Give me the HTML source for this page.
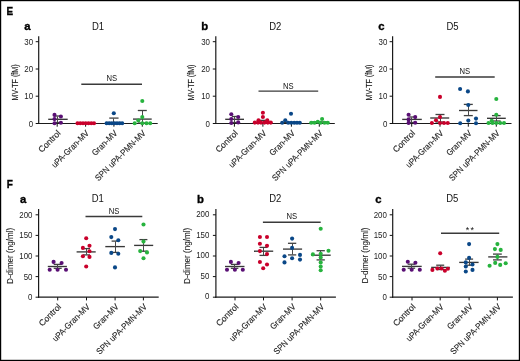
<!DOCTYPE html>
<html><head><meta charset="utf-8"><style>
html,body{margin:0;padding:0;background:#fff;}
body{width:520px;height:361px;overflow:hidden;}
svg{display:block;will-change:transform;font-family:"Liberation Sans",sans-serif;}
</style></head><body>
<svg width="520" height="361" viewBox="0 0 520 361">
<rect x="0.5" y="0.5" width="519" height="360" fill="#fff" stroke="#000" stroke-width="1.4"/>
<text x="6.4" y="14.5" font-size="10.9" font-weight="bold" fill="#000" stroke="#000" stroke-width="0.35" textLength="6.6" lengthAdjust="spacingAndGlyphs">E</text>
<text x="6.7" y="188.0" font-size="10.9" font-weight="bold" fill="#000" stroke="#000" stroke-width="0.35" textLength="6.1" lengthAdjust="spacingAndGlyphs">F</text>
<text x="24.3" y="29.8" font-size="11.3" text-anchor="start" font-weight="bold" fill="#000" stroke="#000" stroke-width="0.35">a</text>
<text x="98.1" y="29.8" font-size="10.0" text-anchor="middle" font-weight="normal" fill="#111" textLength="12.14" lengthAdjust="spacingAndGlyphs" >D1</text>
<line x1="38.7" y1="36.3" x2="38.7" y2="124.1" stroke="#1a1a1a" stroke-width="1.2"/>
<line x1="38.1" y1="123.5" x2="157.7" y2="123.5" stroke="#1a1a1a" stroke-width="1.2"/>
<line x1="35.7" y1="41.7" x2="38.7" y2="41.7" stroke="#111" stroke-width="1.0"/>
<text x="33.1" y="44.7" font-size="8.8" text-anchor="end" font-weight="normal" fill="#222" textLength="8.81" lengthAdjust="spacingAndGlyphs" >30</text>
<line x1="35.7" y1="69.0" x2="38.7" y2="69.0" stroke="#111" stroke-width="1.0"/>
<text x="33.1" y="72.0" font-size="8.8" text-anchor="end" font-weight="normal" fill="#222" textLength="8.81" lengthAdjust="spacingAndGlyphs" >20</text>
<line x1="35.7" y1="96.2" x2="38.7" y2="96.2" stroke="#111" stroke-width="1.0"/>
<text x="33.1" y="99.2" font-size="8.8" text-anchor="end" font-weight="normal" fill="#222" textLength="8.81" lengthAdjust="spacingAndGlyphs" >10</text>
<line x1="35.7" y1="123.5" x2="38.7" y2="123.5" stroke="#111" stroke-width="1.0"/>
<text x="33.1" y="126.5" font-size="8.8" text-anchor="end" font-weight="normal" fill="#222" textLength="4.40" lengthAdjust="spacingAndGlyphs" >0</text>
<text x="0" y="0" font-size="9.0" text-anchor="middle" fill="#222" stroke="#222" stroke-width="0.18" transform="translate(17.9,82.4) rotate(-90)" textLength="36" lengthAdjust="spacingAndGlyphs">MV-TF (fM)</text>
<line x1="57.2" y1="123.5" x2="57.2" y2="126.7" stroke="#111" stroke-width="1.0"/>
<text x="0" y="0" font-size="8.6" text-anchor="end" fill="#222" stroke="#222" stroke-width="0.12" textLength="27.47" lengthAdjust="spacingAndGlyphs" transform="translate(61.2,133.7) rotate(-45)">Control</text>
<line x1="85.6" y1="123.5" x2="85.6" y2="126.7" stroke="#111" stroke-width="1.0"/>
<text x="0" y="0" font-size="8.6" text-anchor="end" fill="#222" stroke="#222" stroke-width="0.12" textLength="49.02" lengthAdjust="spacingAndGlyphs" transform="translate(89.6,133.7) rotate(-45)">uPA-Gran-MV</text>
<line x1="113.9" y1="123.5" x2="113.9" y2="126.7" stroke="#111" stroke-width="1.0"/>
<text x="0" y="0" font-size="8.6" text-anchor="end" fill="#222" stroke="#222" stroke-width="0.12" textLength="32.04" lengthAdjust="spacingAndGlyphs" transform="translate(117.9,133.7) rotate(-45)">Gran-MV</text>
<line x1="142.3" y1="123.5" x2="142.3" y2="126.7" stroke="#111" stroke-width="1.0"/>
<text x="0" y="0" font-size="8.6" text-anchor="end" fill="#222" stroke="#222" stroke-width="0.12" textLength="67.45" lengthAdjust="spacingAndGlyphs" transform="translate(146.3,133.7) rotate(-45)">SPN uPA-PMN-MV</text>
<line x1="81.3" y1="84.2" x2="142" y2="84.2" stroke="#3a3a3a" stroke-width="1.4"/>
<text x="111.8" y="81.2" font-size="8.5" text-anchor="middle" font-weight="normal" fill="#111" textLength="10.63" lengthAdjust="spacingAndGlyphs" >NS</text>
<line x1="48.2" y1="119.3" x2="67.7" y2="119.3" stroke="#383838" stroke-width="1.35"/>
<line x1="57.5" y1="116.5" x2="57.5" y2="122.5" stroke="#4a4a4a" stroke-width="1.0"/>
<line x1="54.2" y1="116.0" x2="60.2" y2="116.0" stroke="#404040" stroke-width="1.3"/>
<line x1="54.2" y1="122.5" x2="60.2" y2="122.5" stroke="#404040" stroke-width="1.3"/>
<line x1="78" y1="123.2" x2="93" y2="123.2" stroke="#383838" stroke-width="1.35"/>
<line x1="106" y1="122.6" x2="121.5" y2="122.6" stroke="#383838" stroke-width="1.35"/>
<line x1="113.5" y1="118.5" x2="113.5" y2="123.5" stroke="#4a4a4a" stroke-width="1.0"/>
<line x1="109.25" y1="118.1" x2="118.55000000000001" y2="118.1" stroke="#404040" stroke-width="1.3"/>
<line x1="109.25" y1="123" x2="118.55000000000001" y2="123" stroke="#404040" stroke-width="1.3"/>
<line x1="133" y1="119.1" x2="151.7" y2="119.1" stroke="#383838" stroke-width="1.35"/>
<line x1="142.5" y1="110.5" x2="142.5" y2="123.5" stroke="#4a4a4a" stroke-width="1.0"/>
<line x1="137.8" y1="110.5" x2="146.8" y2="110.5" stroke="#404040" stroke-width="1.3"/>
<line x1="137.8" y1="123" x2="146.8" y2="123" stroke="#404040" stroke-width="1.3"/>
<circle cx="54.5" cy="114.9" r="2.05" fill="#590f74"/>
<circle cx="54.5" cy="119.1" r="2.05" fill="#590f74"/>
<circle cx="54.5" cy="123.2" r="2.05" fill="#590f74"/>
<circle cx="60.9" cy="116.5" r="2.05" fill="#590f74"/>
<circle cx="60.9" cy="122.8" r="2.05" fill="#590f74"/>
<circle cx="77.5" cy="123.2" r="2.05" fill="#c9002b"/>
<circle cx="80.25" cy="123.2" r="2.05" fill="#c9002b"/>
<circle cx="83.0" cy="123.2" r="2.05" fill="#c9002b"/>
<circle cx="85.75" cy="123.2" r="2.05" fill="#c9002b"/>
<circle cx="88.5" cy="123.2" r="2.05" fill="#c9002b"/>
<circle cx="91.25" cy="123.2" r="2.05" fill="#c9002b"/>
<circle cx="94.0" cy="123.2" r="2.05" fill="#c9002b"/>
<circle cx="113.8" cy="113.3" r="2.05" fill="#0a4787"/>
<circle cx="106.6" cy="123.2" r="2.05" fill="#0a4787"/>
<circle cx="109.19999999999999" cy="123.2" r="2.05" fill="#0a4787"/>
<circle cx="111.8" cy="123.2" r="2.05" fill="#0a4787"/>
<circle cx="114.39999999999999" cy="123.2" r="2.05" fill="#0a4787"/>
<circle cx="117.0" cy="123.2" r="2.05" fill="#0a4787"/>
<circle cx="119.6" cy="123.2" r="2.05" fill="#0a4787"/>
<circle cx="122.19999999999999" cy="123.2" r="2.05" fill="#0a4787"/>
<circle cx="142.3" cy="101.0" r="2.05" fill="#27b33e"/>
<circle cx="142.3" cy="117.1" r="2.05" fill="#27b33e"/>
<circle cx="138.3" cy="120.5" r="2.05" fill="#27b33e"/>
<circle cx="134.7" cy="123.2" r="2.05" fill="#27b33e"/>
<circle cx="142.3" cy="123.2" r="2.05" fill="#27b33e"/>
<circle cx="146.5" cy="123.2" r="2.05" fill="#27b33e"/>
<circle cx="150.2" cy="123.2" r="2.05" fill="#27b33e"/>
<text x="201.2" y="29.8" font-size="11.3" text-anchor="start" font-weight="bold" fill="#000" stroke="#000" stroke-width="0.35">b</text>
<text x="275.3" y="29.8" font-size="10.0" text-anchor="middle" font-weight="normal" fill="#111" textLength="12.14" lengthAdjust="spacingAndGlyphs" >D2</text>
<line x1="215.8" y1="36.3" x2="215.8" y2="124.1" stroke="#1a1a1a" stroke-width="1.2"/>
<line x1="215.20000000000002" y1="123.5" x2="334.8" y2="123.5" stroke="#1a1a1a" stroke-width="1.2"/>
<line x1="212.8" y1="41.7" x2="215.8" y2="41.7" stroke="#111" stroke-width="1.0"/>
<text x="210.0" y="44.7" font-size="8.8" text-anchor="end" font-weight="normal" fill="#222" textLength="8.81" lengthAdjust="spacingAndGlyphs" >30</text>
<line x1="212.8" y1="69.0" x2="215.8" y2="69.0" stroke="#111" stroke-width="1.0"/>
<text x="210.0" y="72.0" font-size="8.8" text-anchor="end" font-weight="normal" fill="#222" textLength="8.81" lengthAdjust="spacingAndGlyphs" >20</text>
<line x1="212.8" y1="96.2" x2="215.8" y2="96.2" stroke="#111" stroke-width="1.0"/>
<text x="210.0" y="99.2" font-size="8.8" text-anchor="end" font-weight="normal" fill="#222" textLength="8.81" lengthAdjust="spacingAndGlyphs" >10</text>
<line x1="212.8" y1="123.5" x2="215.8" y2="123.5" stroke="#111" stroke-width="1.0"/>
<text x="210.0" y="126.5" font-size="8.8" text-anchor="end" font-weight="normal" fill="#222" textLength="4.40" lengthAdjust="spacingAndGlyphs" >0</text>
<text x="0" y="0" font-size="9.0" text-anchor="middle" fill="#222" stroke="#222" stroke-width="0.18" transform="translate(193.7,82.5) rotate(-90)" textLength="36" lengthAdjust="spacingAndGlyphs">MV-TF (fM)</text>
<line x1="234.4" y1="123.5" x2="234.4" y2="126.7" stroke="#111" stroke-width="1.0"/>
<text x="0" y="0" font-size="8.6" text-anchor="end" fill="#222" stroke="#222" stroke-width="0.12" textLength="27.47" lengthAdjust="spacingAndGlyphs" transform="translate(238.4,133.7) rotate(-45)">Control</text>
<line x1="262.9" y1="123.5" x2="262.9" y2="126.7" stroke="#111" stroke-width="1.0"/>
<text x="0" y="0" font-size="8.6" text-anchor="end" fill="#222" stroke="#222" stroke-width="0.12" textLength="49.02" lengthAdjust="spacingAndGlyphs" transform="translate(266.9,133.7) rotate(-45)">uPA-Gran-MV</text>
<line x1="291.4" y1="123.5" x2="291.4" y2="126.7" stroke="#111" stroke-width="1.0"/>
<text x="0" y="0" font-size="8.6" text-anchor="end" fill="#222" stroke="#222" stroke-width="0.12" textLength="32.04" lengthAdjust="spacingAndGlyphs" transform="translate(295.4,133.7) rotate(-45)">Gran-MV</text>
<line x1="319.3" y1="123.5" x2="319.3" y2="126.7" stroke="#111" stroke-width="1.0"/>
<text x="0" y="0" font-size="8.6" text-anchor="end" fill="#222" stroke="#222" stroke-width="0.12" textLength="67.45" lengthAdjust="spacingAndGlyphs" transform="translate(323.3,133.7) rotate(-45)">SPN uPA-PMN-MV</text>
<line x1="258.5" y1="91.1" x2="318.2" y2="91.1" stroke="#3a3a3a" stroke-width="1.4"/>
<text x="288.3" y="88.5" font-size="8.5" text-anchor="middle" font-weight="normal" fill="#111" textLength="10.63" lengthAdjust="spacingAndGlyphs" >NS</text>
<line x1="225.2" y1="119.3" x2="244" y2="119.3" stroke="#383838" stroke-width="1.35"/>
<line x1="234.5" y1="116.5" x2="234.5" y2="122.5" stroke="#4a4a4a" stroke-width="1.0"/>
<line x1="231.9" y1="116.5" x2="236.9" y2="116.5" stroke="#404040" stroke-width="1.3"/>
<line x1="231.9" y1="122.5" x2="236.9" y2="122.5" stroke="#404040" stroke-width="1.3"/>
<line x1="258" y1="120.4" x2="268" y2="120.4" stroke="#383838" stroke-width="1.35"/>
<line x1="284" y1="122.3" x2="299" y2="122.3" stroke="#383838" stroke-width="1.35"/>
<line x1="312" y1="122.0" x2="328" y2="122.0" stroke="#383838" stroke-width="1.35"/>
<circle cx="231.3" cy="114.3" r="2.05" fill="#590f74"/>
<circle cx="231.3" cy="119.0" r="2.05" fill="#590f74"/>
<circle cx="231.3" cy="123.0" r="2.05" fill="#590f74"/>
<circle cx="238.2" cy="117.0" r="2.05" fill="#590f74"/>
<circle cx="238.2" cy="122.4" r="2.05" fill="#590f74"/>
<circle cx="262.9" cy="112.8" r="2.05" fill="#c9002b"/>
<circle cx="262.9" cy="117.0" r="2.05" fill="#c9002b"/>
<circle cx="258.5" cy="120.2" r="2.05" fill="#c9002b"/>
<circle cx="267.3" cy="120.2" r="2.05" fill="#c9002b"/>
<circle cx="254.8" cy="122.6" r="2.05" fill="#c9002b"/>
<circle cx="258.0" cy="122.6" r="2.05" fill="#c9002b"/>
<circle cx="261.0" cy="122.6" r="2.05" fill="#c9002b"/>
<circle cx="264.5" cy="122.6" r="2.05" fill="#c9002b"/>
<circle cx="267.8" cy="122.6" r="2.05" fill="#c9002b"/>
<circle cx="270.8" cy="122.6" r="2.05" fill="#c9002b"/>
<circle cx="291.0" cy="113.8" r="2.05" fill="#0a4787"/>
<circle cx="285.3" cy="120.3" r="2.05" fill="#0a4787"/>
<circle cx="282.2" cy="122.8" r="2.05" fill="#0a4787"/>
<circle cx="288.2" cy="122.8" r="2.05" fill="#0a4787"/>
<circle cx="291.2" cy="122.8" r="2.05" fill="#0a4787"/>
<circle cx="294.2" cy="122.8" r="2.05" fill="#0a4787"/>
<circle cx="297.0" cy="122.8" r="2.05" fill="#0a4787"/>
<circle cx="299.8" cy="122.8" r="2.05" fill="#0a4787"/>
<circle cx="322.1" cy="119.0" r="2.05" fill="#27b33e"/>
<circle cx="311.2" cy="122.8" r="2.05" fill="#27b33e"/>
<circle cx="314.5" cy="122.8" r="2.05" fill="#27b33e"/>
<circle cx="317.8" cy="121.8" r="2.05" fill="#27b33e"/>
<circle cx="320.5" cy="122.8" r="2.05" fill="#27b33e"/>
<circle cx="324.5" cy="122.8" r="2.05" fill="#27b33e"/>
<circle cx="327.8" cy="122.8" r="2.05" fill="#27b33e"/>
<text x="378.2" y="29.8" font-size="11.3" text-anchor="start" font-weight="bold" fill="#000" stroke="#000" stroke-width="0.35">c</text>
<text x="452.5" y="29.8" font-size="10.0" text-anchor="middle" font-weight="normal" fill="#111" textLength="12.14" lengthAdjust="spacingAndGlyphs" >D5</text>
<line x1="392.6" y1="36.3" x2="392.6" y2="124.1" stroke="#1a1a1a" stroke-width="1.2"/>
<line x1="392.0" y1="123.5" x2="511.5" y2="123.5" stroke="#1a1a1a" stroke-width="1.2"/>
<line x1="389.6" y1="41.7" x2="392.6" y2="41.7" stroke="#111" stroke-width="1.0"/>
<text x="387.3" y="44.7" font-size="8.8" text-anchor="end" font-weight="normal" fill="#222" textLength="8.81" lengthAdjust="spacingAndGlyphs" >30</text>
<line x1="389.6" y1="69.0" x2="392.6" y2="69.0" stroke="#111" stroke-width="1.0"/>
<text x="387.3" y="72.0" font-size="8.8" text-anchor="end" font-weight="normal" fill="#222" textLength="8.81" lengthAdjust="spacingAndGlyphs" >20</text>
<line x1="389.6" y1="96.2" x2="392.6" y2="96.2" stroke="#111" stroke-width="1.0"/>
<text x="387.3" y="99.2" font-size="8.8" text-anchor="end" font-weight="normal" fill="#222" textLength="8.81" lengthAdjust="spacingAndGlyphs" >10</text>
<line x1="389.6" y1="123.5" x2="392.6" y2="123.5" stroke="#111" stroke-width="1.0"/>
<text x="387.3" y="126.5" font-size="8.8" text-anchor="end" font-weight="normal" fill="#222" textLength="4.40" lengthAdjust="spacingAndGlyphs" >0</text>
<text x="0" y="0" font-size="9.0" text-anchor="middle" fill="#222" stroke="#222" stroke-width="0.18" transform="translate(371.5,82.5) rotate(-90)" textLength="36" lengthAdjust="spacingAndGlyphs">MV-TF (fM)</text>
<line x1="411.7" y1="123.5" x2="411.7" y2="126.7" stroke="#111" stroke-width="1.0"/>
<text x="0" y="0" font-size="8.6" text-anchor="end" fill="#222" stroke="#222" stroke-width="0.12" textLength="27.47" lengthAdjust="spacingAndGlyphs" transform="translate(415.7,133.7) rotate(-45)">Control</text>
<line x1="440.0" y1="123.5" x2="440.0" y2="126.7" stroke="#111" stroke-width="1.0"/>
<text x="0" y="0" font-size="8.6" text-anchor="end" fill="#222" stroke="#222" stroke-width="0.12" textLength="49.02" lengthAdjust="spacingAndGlyphs" transform="translate(444.0,133.7) rotate(-45)">uPA-Gran-MV</text>
<line x1="468.3" y1="123.5" x2="468.3" y2="126.7" stroke="#111" stroke-width="1.0"/>
<text x="0" y="0" font-size="8.6" text-anchor="end" fill="#222" stroke="#222" stroke-width="0.12" textLength="32.04" lengthAdjust="spacingAndGlyphs" transform="translate(472.3,133.7) rotate(-45)">Gran-MV</text>
<line x1="496.3" y1="123.5" x2="496.3" y2="126.7" stroke="#111" stroke-width="1.0"/>
<text x="0" y="0" font-size="8.6" text-anchor="end" fill="#222" stroke="#222" stroke-width="0.12" textLength="67.45" lengthAdjust="spacingAndGlyphs" transform="translate(500.3,133.7) rotate(-45)">SPN uPA-PMN-MV</text>
<line x1="435.2" y1="77.0" x2="494.7" y2="77.0" stroke="#3a3a3a" stroke-width="1.4"/>
<text x="464.9" y="74.2" font-size="8.5" text-anchor="middle" font-weight="normal" fill="#111" textLength="10.63" lengthAdjust="spacingAndGlyphs" >NS</text>
<line x1="402.2" y1="119.4" x2="421.8" y2="119.4" stroke="#383838" stroke-width="1.35"/>
<line x1="411.5" y1="117.5" x2="411.5" y2="122.5" stroke="#4a4a4a" stroke-width="1.0"/>
<line x1="409.2" y1="117.0" x2="414.2" y2="117.0" stroke="#404040" stroke-width="1.3"/>
<line x1="409.2" y1="122.5" x2="414.2" y2="122.5" stroke="#404040" stroke-width="1.3"/>
<line x1="430.2" y1="118.0" x2="449.2" y2="118.0" stroke="#383838" stroke-width="1.35"/>
<line x1="440.5" y1="114.5" x2="440.5" y2="122.5" stroke="#4a4a4a" stroke-width="1.0"/>
<line x1="435.5" y1="114.5" x2="444.5" y2="114.5" stroke="#404040" stroke-width="1.3"/>
<line x1="435.5" y1="122" x2="444.5" y2="122" stroke="#404040" stroke-width="1.3"/>
<line x1="459" y1="110.5" x2="477.5" y2="110.5" stroke="#383838" stroke-width="1.35"/>
<line x1="468.5" y1="104.5" x2="468.5" y2="115.5" stroke="#4a4a4a" stroke-width="1.0"/>
<line x1="463.8" y1="104.4" x2="472.8" y2="104.4" stroke="#404040" stroke-width="1.3"/>
<line x1="463.8" y1="115.6" x2="472.8" y2="115.6" stroke="#404040" stroke-width="1.3"/>
<line x1="487" y1="118.3" x2="505.8" y2="118.3" stroke="#383838" stroke-width="1.35"/>
<line x1="496.5" y1="115.5" x2="496.5" y2="121.5" stroke="#4a4a4a" stroke-width="1.0"/>
<line x1="491.95" y1="115.6" x2="500.65000000000003" y2="115.6" stroke="#404040" stroke-width="1.3"/>
<line x1="491.95" y1="121" x2="500.65000000000003" y2="121" stroke="#404040" stroke-width="1.3"/>
<circle cx="408.6" cy="114.8" r="2.05" fill="#590f74"/>
<circle cx="408.6" cy="119.4" r="2.05" fill="#590f74"/>
<circle cx="408.6" cy="122.9" r="2.05" fill="#590f74"/>
<circle cx="415.2" cy="117.1" r="2.05" fill="#590f74"/>
<circle cx="415.2" cy="122.7" r="2.05" fill="#590f74"/>
<circle cx="440.0" cy="96.9" r="2.05" fill="#c9002b"/>
<circle cx="440.0" cy="117.1" r="2.05" fill="#c9002b"/>
<circle cx="436.0" cy="120.2" r="2.05" fill="#c9002b"/>
<circle cx="431.9" cy="123.0" r="2.05" fill="#c9002b"/>
<circle cx="440.0" cy="123.0" r="2.05" fill="#c9002b"/>
<circle cx="444.0" cy="123.0" r="2.05" fill="#c9002b"/>
<circle cx="447.8" cy="123.0" r="2.05" fill="#c9002b"/>
<circle cx="460.1" cy="89.0" r="2.05" fill="#0a4787"/>
<circle cx="467.9" cy="91.4" r="2.05" fill="#0a4787"/>
<circle cx="468.3" cy="105.0" r="2.05" fill="#0a4787"/>
<circle cx="476.0" cy="118.6" r="2.05" fill="#0a4787"/>
<circle cx="468.3" cy="120.6" r="2.05" fill="#0a4787"/>
<circle cx="460.2" cy="123.2" r="2.05" fill="#0a4787"/>
<circle cx="476.0" cy="123.2" r="2.05" fill="#0a4787"/>
<circle cx="496.3" cy="99.0" r="2.05" fill="#27b33e"/>
<circle cx="496.3" cy="114.8" r="2.05" fill="#27b33e"/>
<circle cx="491.7" cy="120.8" r="2.05" fill="#27b33e"/>
<circle cx="488.5" cy="123.0" r="2.05" fill="#27b33e"/>
<circle cx="492.5" cy="123.0" r="2.05" fill="#27b33e"/>
<circle cx="496.3" cy="123.0" r="2.05" fill="#27b33e"/>
<circle cx="500.2" cy="123.0" r="2.05" fill="#27b33e"/>
<circle cx="504.0" cy="123.0" r="2.05" fill="#27b33e"/>
<text x="20.0" y="202.8" font-size="11.3" text-anchor="start" font-weight="bold" fill="#000" stroke="#000" stroke-width="0.35">a</text>
<text x="97.8" y="202.3" font-size="10.0" text-anchor="middle" font-weight="normal" fill="#111" textLength="12.14" lengthAdjust="spacingAndGlyphs" >D1</text>
<line x1="38.6" y1="209.1" x2="38.6" y2="297.8" stroke="#1a1a1a" stroke-width="1.2"/>
<line x1="38.0" y1="297.2" x2="158.7" y2="297.2" stroke="#1a1a1a" stroke-width="1.2"/>
<line x1="35.6" y1="214.8" x2="38.6" y2="214.8" stroke="#111" stroke-width="1.0"/>
<text x="32.5" y="217.8" font-size="8.8" text-anchor="end" font-weight="normal" fill="#222" textLength="13.21" lengthAdjust="spacingAndGlyphs" >200</text>
<line x1="35.6" y1="235.4" x2="38.6" y2="235.4" stroke="#111" stroke-width="1.0"/>
<text x="32.5" y="238.4" font-size="8.8" text-anchor="end" font-weight="normal" fill="#222" textLength="13.21" lengthAdjust="spacingAndGlyphs" >150</text>
<line x1="35.6" y1="256.0" x2="38.6" y2="256.0" stroke="#111" stroke-width="1.0"/>
<text x="32.5" y="259.0" font-size="8.8" text-anchor="end" font-weight="normal" fill="#222" textLength="13.21" lengthAdjust="spacingAndGlyphs" >100</text>
<line x1="35.6" y1="276.6" x2="38.6" y2="276.6" stroke="#111" stroke-width="1.0"/>
<text x="32.5" y="279.6" font-size="8.8" text-anchor="end" font-weight="normal" fill="#222" textLength="8.81" lengthAdjust="spacingAndGlyphs" >50</text>
<line x1="35.6" y1="297.2" x2="38.6" y2="297.2" stroke="#111" stroke-width="1.0"/>
<text x="32.5" y="300.2" font-size="8.8" text-anchor="end" font-weight="normal" fill="#222" textLength="4.40" lengthAdjust="spacingAndGlyphs" >0</text>
<text x="0" y="0" font-size="8.6" text-anchor="middle" fill="#222" stroke="#222" stroke-width="0.1" transform="translate(13.0,255.9) rotate(-90)" textLength="56" lengthAdjust="spacingAndGlyphs">D-dimer (ng/ml)</text>
<line x1="57.7" y1="297.2" x2="57.7" y2="300.4" stroke="#111" stroke-width="1.0"/>
<text x="0" y="0" font-size="8.6" text-anchor="end" fill="#222" stroke="#222" stroke-width="0.12" textLength="27.47" lengthAdjust="spacingAndGlyphs" transform="translate(61.7,307.4) rotate(-45)">Control</text>
<line x1="86.5" y1="297.2" x2="86.5" y2="300.4" stroke="#111" stroke-width="1.0"/>
<text x="0" y="0" font-size="8.6" text-anchor="end" fill="#222" stroke="#222" stroke-width="0.12" textLength="49.02" lengthAdjust="spacingAndGlyphs" transform="translate(90.5,307.4) rotate(-45)">uPA-Gran-MV</text>
<line x1="115.1" y1="297.2" x2="115.1" y2="300.4" stroke="#111" stroke-width="1.0"/>
<text x="0" y="0" font-size="8.6" text-anchor="end" fill="#222" stroke="#222" stroke-width="0.12" textLength="32.04" lengthAdjust="spacingAndGlyphs" transform="translate(119.1,307.4) rotate(-45)">Gran-MV</text>
<line x1="143.4" y1="297.2" x2="143.4" y2="300.4" stroke="#111" stroke-width="1.0"/>
<text x="0" y="0" font-size="8.6" text-anchor="end" fill="#222" stroke="#222" stroke-width="0.12" textLength="67.45" lengthAdjust="spacingAndGlyphs" transform="translate(147.4,307.4) rotate(-45)">SPN uPA-PMN-MV</text>
<line x1="85.5" y1="216.5" x2="142.3" y2="216.5" stroke="#3a3a3a" stroke-width="1.4"/>
<text x="114.0" y="213.8" font-size="8.5" text-anchor="middle" font-weight="normal" fill="#111" textLength="10.63" lengthAdjust="spacingAndGlyphs" >NS</text>
<line x1="47.8" y1="266.5" x2="66.9" y2="266.5" stroke="#383838" stroke-width="1.35"/>
<line x1="57.5" y1="264.5" x2="57.5" y2="268.5" stroke="#4a4a4a" stroke-width="1.0"/>
<line x1="53.7" y1="264.4" x2="61.7" y2="264.4" stroke="#404040" stroke-width="1.3"/>
<line x1="53.7" y1="268.3" x2="61.7" y2="268.3" stroke="#404040" stroke-width="1.3"/>
<line x1="76.6" y1="251.9" x2="95.7" y2="251.9" stroke="#383838" stroke-width="1.35"/>
<line x1="86.5" y1="248.5" x2="86.5" y2="254.5" stroke="#4a4a4a" stroke-width="1.0"/>
<line x1="83.0" y1="248.6" x2="90.0" y2="248.6" stroke="#404040" stroke-width="1.3"/>
<line x1="83.0" y1="254.9" x2="90.0" y2="254.9" stroke="#404040" stroke-width="1.3"/>
<line x1="105.3" y1="246.6" x2="124.9" y2="246.6" stroke="#383838" stroke-width="1.35"/>
<line x1="115.5" y1="241.5" x2="115.5" y2="252.5" stroke="#4a4a4a" stroke-width="1.0"/>
<line x1="111.6" y1="241.1" x2="118.6" y2="241.1" stroke="#404040" stroke-width="1.3"/>
<line x1="111.6" y1="252.4" x2="118.6" y2="252.4" stroke="#404040" stroke-width="1.3"/>
<line x1="134.1" y1="245.4" x2="153.2" y2="245.4" stroke="#383838" stroke-width="1.35"/>
<line x1="143.5" y1="239.5" x2="143.5" y2="251.5" stroke="#4a4a4a" stroke-width="1.0"/>
<line x1="139.4" y1="239.6" x2="147.4" y2="239.6" stroke="#404040" stroke-width="1.3"/>
<line x1="139.4" y1="251.2" x2="147.4" y2="251.2" stroke="#404040" stroke-width="1.3"/>
<circle cx="53.6" cy="261.9" r="2.05" fill="#590f74"/>
<circle cx="61.6" cy="263.0" r="2.05" fill="#590f74"/>
<circle cx="49.7" cy="269.7" r="2.05" fill="#590f74"/>
<circle cx="57.6" cy="269.7" r="2.05" fill="#590f74"/>
<circle cx="66.0" cy="269.7" r="2.05" fill="#590f74"/>
<circle cx="86.2" cy="238.3" r="2.05" fill="#c9002b"/>
<circle cx="82.9" cy="247.9" r="2.05" fill="#c9002b"/>
<circle cx="89.5" cy="245.8" r="2.05" fill="#c9002b"/>
<circle cx="89.5" cy="251.2" r="2.05" fill="#c9002b"/>
<circle cx="82.9" cy="256.2" r="2.05" fill="#c9002b"/>
<circle cx="89.5" cy="256.9" r="2.05" fill="#c9002b"/>
<circle cx="86.2" cy="266.5" r="2.05" fill="#c9002b"/>
<circle cx="115.0" cy="229.1" r="2.05" fill="#0a4787"/>
<circle cx="111.3" cy="237.1" r="2.05" fill="#0a4787"/>
<circle cx="118.3" cy="240.3" r="2.05" fill="#0a4787"/>
<circle cx="111.3" cy="252.9" r="2.05" fill="#0a4787"/>
<circle cx="118.3" cy="253.7" r="2.05" fill="#0a4787"/>
<circle cx="115.0" cy="267.4" r="2.05" fill="#0a4787"/>
<circle cx="143.5" cy="224.5" r="2.05" fill="#27b33e"/>
<circle cx="143.5" cy="241.6" r="2.05" fill="#27b33e"/>
<circle cx="140.2" cy="251.1" r="2.05" fill="#27b33e"/>
<circle cx="147.0" cy="252.4" r="2.05" fill="#27b33e"/>
<circle cx="143.5" cy="258.2" r="2.05" fill="#27b33e"/>
<text x="196.9" y="202.8" font-size="11.3" text-anchor="start" font-weight="bold" fill="#000" stroke="#000" stroke-width="0.35">b</text>
<text x="275.3" y="202.3" font-size="10.0" text-anchor="middle" font-weight="normal" fill="#111" textLength="12.14" lengthAdjust="spacingAndGlyphs" >D2</text>
<line x1="215.9" y1="209.1" x2="215.9" y2="297.8" stroke="#1a1a1a" stroke-width="1.2"/>
<line x1="215.3" y1="297.2" x2="335.9" y2="297.2" stroke="#1a1a1a" stroke-width="1.2"/>
<line x1="212.9" y1="214.8" x2="215.9" y2="214.8" stroke="#111" stroke-width="1.0"/>
<text x="209.4" y="217.0" font-size="8.8" text-anchor="end" font-weight="normal" fill="#222" textLength="13.21" lengthAdjust="spacingAndGlyphs" >200</text>
<line x1="212.9" y1="235.4" x2="215.9" y2="235.4" stroke="#111" stroke-width="1.0"/>
<text x="209.4" y="237.6" font-size="8.8" text-anchor="end" font-weight="normal" fill="#222" textLength="13.21" lengthAdjust="spacingAndGlyphs" >150</text>
<line x1="212.9" y1="256.0" x2="215.9" y2="256.0" stroke="#111" stroke-width="1.0"/>
<text x="209.4" y="258.2" font-size="8.8" text-anchor="end" font-weight="normal" fill="#222" textLength="13.21" lengthAdjust="spacingAndGlyphs" >100</text>
<line x1="212.9" y1="276.6" x2="215.9" y2="276.6" stroke="#111" stroke-width="1.0"/>
<text x="209.4" y="278.8" font-size="8.8" text-anchor="end" font-weight="normal" fill="#222" textLength="8.81" lengthAdjust="spacingAndGlyphs" >50</text>
<line x1="212.9" y1="297.2" x2="215.9" y2="297.2" stroke="#111" stroke-width="1.0"/>
<text x="209.4" y="299.4" font-size="8.8" text-anchor="end" font-weight="normal" fill="#222" textLength="4.40" lengthAdjust="spacingAndGlyphs" >0</text>
<text x="0" y="0" font-size="8.6" text-anchor="middle" fill="#222" stroke="#222" stroke-width="0.1" transform="translate(190.0,255.9) rotate(-90)" textLength="56" lengthAdjust="spacingAndGlyphs">D-dimer (ng/ml)</text>
<line x1="235.0" y1="297.2" x2="235.0" y2="300.4" stroke="#111" stroke-width="1.0"/>
<text x="0" y="0" font-size="8.6" text-anchor="end" fill="#222" stroke="#222" stroke-width="0.12" textLength="27.47" lengthAdjust="spacingAndGlyphs" transform="translate(239.0,307.4) rotate(-45)">Control</text>
<line x1="263.5" y1="297.2" x2="263.5" y2="300.4" stroke="#111" stroke-width="1.0"/>
<text x="0" y="0" font-size="8.6" text-anchor="end" fill="#222" stroke="#222" stroke-width="0.12" textLength="49.02" lengthAdjust="spacingAndGlyphs" transform="translate(267.5,307.4) rotate(-45)">uPA-Gran-MV</text>
<line x1="292.1" y1="297.2" x2="292.1" y2="300.4" stroke="#111" stroke-width="1.0"/>
<text x="0" y="0" font-size="8.6" text-anchor="end" fill="#222" stroke="#222" stroke-width="0.12" textLength="32.04" lengthAdjust="spacingAndGlyphs" transform="translate(296.1,307.4) rotate(-45)">Gran-MV</text>
<line x1="320.7" y1="297.2" x2="320.7" y2="300.4" stroke="#111" stroke-width="1.0"/>
<text x="0" y="0" font-size="8.6" text-anchor="end" fill="#222" stroke="#222" stroke-width="0.12" textLength="67.45" lengthAdjust="spacingAndGlyphs" transform="translate(324.7,307.4) rotate(-45)">SPN uPA-PMN-MV</text>
<line x1="262.9" y1="222.2" x2="320.7" y2="222.2" stroke="#3a3a3a" stroke-width="1.4"/>
<text x="291.9" y="218.8" font-size="8.5" text-anchor="middle" font-weight="normal" fill="#111" textLength="10.63" lengthAdjust="spacingAndGlyphs" >NS</text>
<line x1="225" y1="266.5" x2="244.5" y2="266.5" stroke="#383838" stroke-width="1.35"/>
<line x1="234.5" y1="264.5" x2="234.5" y2="268.5" stroke="#4a4a4a" stroke-width="1.0"/>
<line x1="230.85" y1="264.4" x2="238.35" y2="264.4" stroke="#404040" stroke-width="1.3"/>
<line x1="230.85" y1="268.3" x2="238.35" y2="268.3" stroke="#404040" stroke-width="1.3"/>
<line x1="254" y1="251.2" x2="273.2" y2="251.2" stroke="#383838" stroke-width="1.35"/>
<line x1="263.5" y1="247.5" x2="263.5" y2="255.5" stroke="#4a4a4a" stroke-width="1.0"/>
<line x1="259.5" y1="247.4" x2="267.5" y2="247.4" stroke="#404040" stroke-width="1.3"/>
<line x1="259.5" y1="255.4" x2="267.5" y2="255.4" stroke="#404040" stroke-width="1.3"/>
<line x1="283" y1="249.1" x2="302.1" y2="249.1" stroke="#383838" stroke-width="1.35"/>
<line x1="292.5" y1="243.5" x2="292.5" y2="254.5" stroke="#4a4a4a" stroke-width="1.0"/>
<line x1="287.95000000000005" y1="243.3" x2="296.25" y2="243.3" stroke="#404040" stroke-width="1.3"/>
<line x1="287.95000000000005" y1="254.9" x2="296.25" y2="254.9" stroke="#404040" stroke-width="1.3"/>
<line x1="311.2" y1="255.2" x2="330.7" y2="255.2" stroke="#383838" stroke-width="1.35"/>
<line x1="320.5" y1="250.5" x2="320.5" y2="259.5" stroke="#4a4a4a" stroke-width="1.0"/>
<line x1="316.55" y1="250.7" x2="324.84999999999997" y2="250.7" stroke="#404040" stroke-width="1.3"/>
<line x1="316.55" y1="259.9" x2="324.84999999999997" y2="259.9" stroke="#404040" stroke-width="1.3"/>
<circle cx="230.9" cy="261.9" r="2.05" fill="#590f74"/>
<circle cx="238.6" cy="263.0" r="2.05" fill="#590f74"/>
<circle cx="227.0" cy="269.7" r="2.05" fill="#590f74"/>
<circle cx="234.9" cy="269.7" r="2.05" fill="#590f74"/>
<circle cx="242.8" cy="269.7" r="2.05" fill="#590f74"/>
<circle cx="259.9" cy="237" r="2.05" fill="#c9002b"/>
<circle cx="267" cy="237" r="2.05" fill="#c9002b"/>
<circle cx="259.9" cy="243.8" r="2.05" fill="#c9002b"/>
<circle cx="267" cy="245.8" r="2.05" fill="#c9002b"/>
<circle cx="259.9" cy="251.1" r="2.05" fill="#c9002b"/>
<circle cx="267" cy="254.1" r="2.05" fill="#c9002b"/>
<circle cx="259.9" cy="262" r="2.05" fill="#c9002b"/>
<circle cx="267" cy="264.5" r="2.05" fill="#c9002b"/>
<circle cx="263.2" cy="268.2" r="2.05" fill="#c9002b"/>
<circle cx="292.1" cy="238.6" r="2.05" fill="#0a4787"/>
<circle cx="292.1" cy="247.9" r="2.05" fill="#0a4787"/>
<circle cx="284.5" cy="256.2" r="2.05" fill="#0a4787"/>
<circle cx="300" cy="254.9" r="2.05" fill="#0a4787"/>
<circle cx="292.1" cy="258.2" r="2.05" fill="#0a4787"/>
<circle cx="300" cy="259.6" r="2.05" fill="#0a4787"/>
<circle cx="284.5" cy="262.4" r="2.05" fill="#0a4787"/>
<circle cx="320.7" cy="228.8" r="2.05" fill="#27b33e"/>
<circle cx="328.5" cy="250.7" r="2.05" fill="#27b33e"/>
<circle cx="312.9" cy="254.4" r="2.05" fill="#27b33e"/>
<circle cx="320.7" cy="253.7" r="2.05" fill="#27b33e"/>
<circle cx="320.7" cy="257.4" r="2.05" fill="#27b33e"/>
<circle cx="320.7" cy="262.4" r="2.05" fill="#27b33e"/>
<circle cx="320.7" cy="266.5" r="2.05" fill="#27b33e"/>
<circle cx="320.7" cy="270.2" r="2.05" fill="#27b33e"/>
<text x="375.2" y="202.8" font-size="11.3" text-anchor="start" font-weight="bold" fill="#000" stroke="#000" stroke-width="0.35">c</text>
<text x="452.3" y="202.3" font-size="10.0" text-anchor="middle" font-weight="normal" fill="#111" textLength="12.14" lengthAdjust="spacingAndGlyphs" >D5</text>
<line x1="392.7" y1="209.1" x2="392.7" y2="297.8" stroke="#1a1a1a" stroke-width="1.2"/>
<line x1="392.09999999999997" y1="297.2" x2="512.9" y2="297.2" stroke="#1a1a1a" stroke-width="1.2"/>
<line x1="389.7" y1="214.8" x2="392.7" y2="214.8" stroke="#111" stroke-width="1.0"/>
<text x="386.9" y="217.8" font-size="8.8" text-anchor="end" font-weight="normal" fill="#222" textLength="13.21" lengthAdjust="spacingAndGlyphs" >200</text>
<line x1="389.7" y1="235.4" x2="392.7" y2="235.4" stroke="#111" stroke-width="1.0"/>
<text x="386.9" y="238.4" font-size="8.8" text-anchor="end" font-weight="normal" fill="#222" textLength="13.21" lengthAdjust="spacingAndGlyphs" >150</text>
<line x1="389.7" y1="256.0" x2="392.7" y2="256.0" stroke="#111" stroke-width="1.0"/>
<text x="386.9" y="259.0" font-size="8.8" text-anchor="end" font-weight="normal" fill="#222" textLength="13.21" lengthAdjust="spacingAndGlyphs" >100</text>
<line x1="389.7" y1="276.6" x2="392.7" y2="276.6" stroke="#111" stroke-width="1.0"/>
<text x="386.9" y="279.6" font-size="8.8" text-anchor="end" font-weight="normal" fill="#222" textLength="8.81" lengthAdjust="spacingAndGlyphs" >50</text>
<line x1="389.7" y1="297.2" x2="392.7" y2="297.2" stroke="#111" stroke-width="1.0"/>
<text x="386.9" y="300.2" font-size="8.8" text-anchor="end" font-weight="normal" fill="#222" textLength="4.40" lengthAdjust="spacingAndGlyphs" >0</text>
<text x="0" y="0" font-size="8.6" text-anchor="middle" fill="#222" stroke="#222" stroke-width="0.1" transform="translate(368.2,255.6) rotate(-90)" textLength="56" lengthAdjust="spacingAndGlyphs">D-dimer (ng/ml)</text>
<line x1="412.0" y1="297.2" x2="412.0" y2="300.4" stroke="#111" stroke-width="1.0"/>
<text x="0" y="0" font-size="8.6" text-anchor="end" fill="#222" stroke="#222" stroke-width="0.12" textLength="27.47" lengthAdjust="spacingAndGlyphs" transform="translate(416.0,307.4) rotate(-45)">Control</text>
<line x1="440.2" y1="297.2" x2="440.2" y2="300.4" stroke="#111" stroke-width="1.0"/>
<text x="0" y="0" font-size="8.6" text-anchor="end" fill="#222" stroke="#222" stroke-width="0.12" textLength="49.02" lengthAdjust="spacingAndGlyphs" transform="translate(444.2,307.4) rotate(-45)">uPA-Gran-MV</text>
<line x1="469.1" y1="297.2" x2="469.1" y2="300.4" stroke="#111" stroke-width="1.0"/>
<text x="0" y="0" font-size="8.6" text-anchor="end" fill="#222" stroke="#222" stroke-width="0.12" textLength="32.04" lengthAdjust="spacingAndGlyphs" transform="translate(473.1,307.4) rotate(-45)">Gran-MV</text>
<line x1="497.4" y1="297.2" x2="497.4" y2="300.4" stroke="#111" stroke-width="1.0"/>
<text x="0" y="0" font-size="8.6" text-anchor="end" fill="#222" stroke="#222" stroke-width="0.12" textLength="67.45" lengthAdjust="spacingAndGlyphs" transform="translate(501.4,307.4) rotate(-45)">SPN uPA-PMN-MV</text>
<line x1="441.0" y1="233.3" x2="499.2" y2="233.3" stroke="#3a3a3a" stroke-width="1.4"/>
<text x="467.5" y="232.6" font-size="9.0" text-anchor="middle" font-weight="normal" fill="#111" >*</text>
<text x="472.20000000000005" y="232.6" font-size="9.0" text-anchor="middle" font-weight="normal" fill="#111" >*</text>
<line x1="402" y1="266.4" x2="421.7" y2="266.4" stroke="#383838" stroke-width="1.35"/>
<line x1="411.5" y1="264.5" x2="411.5" y2="268.5" stroke="#4a4a4a" stroke-width="1.0"/>
<line x1="407.65" y1="264.2" x2="415.15" y2="264.2" stroke="#404040" stroke-width="1.3"/>
<line x1="407.65" y1="268.2" x2="415.15" y2="268.2" stroke="#404040" stroke-width="1.3"/>
<line x1="431.2" y1="267.4" x2="449.8" y2="267.4" stroke="#383838" stroke-width="1.35"/>
<line x1="440.5" y1="265.5" x2="440.5" y2="269.5" stroke="#4a4a4a" stroke-width="1.0"/>
<line x1="436.2" y1="265.2" x2="444.2" y2="265.2" stroke="#404040" stroke-width="1.3"/>
<line x1="436.2" y1="269.5" x2="444.2" y2="269.5" stroke="#404040" stroke-width="1.3"/>
<line x1="459.2" y1="262.4" x2="478.6" y2="262.4" stroke="#383838" stroke-width="1.35"/>
<line x1="469.5" y1="259.5" x2="469.5" y2="265.5" stroke="#4a4a4a" stroke-width="1.0"/>
<line x1="465.1" y1="259.1" x2="473.1" y2="259.1" stroke="#404040" stroke-width="1.3"/>
<line x1="465.1" y1="265.2" x2="473.1" y2="265.2" stroke="#404040" stroke-width="1.3"/>
<line x1="488.2" y1="256.9" x2="507.4" y2="256.9" stroke="#383838" stroke-width="1.35"/>
<line x1="497.5" y1="254.5" x2="497.5" y2="259.5" stroke="#4a4a4a" stroke-width="1.0"/>
<line x1="493.0" y1="254.1" x2="501.79999999999995" y2="254.1" stroke="#404040" stroke-width="1.3"/>
<line x1="493.0" y1="259.9" x2="501.79999999999995" y2="259.9" stroke="#404040" stroke-width="1.3"/>
<circle cx="407.8" cy="261.7" r="2.05" fill="#590f74"/>
<circle cx="415.4" cy="262.8" r="2.05" fill="#590f74"/>
<circle cx="403.7" cy="269.7" r="2.05" fill="#590f74"/>
<circle cx="411.7" cy="269.7" r="2.05" fill="#590f74"/>
<circle cx="419.8" cy="269.7" r="2.05" fill="#590f74"/>
<circle cx="440.2" cy="253.2" r="2.05" fill="#c9002b"/>
<circle cx="432.4" cy="269.9" r="2.05" fill="#c9002b"/>
<circle cx="437.4" cy="268.5" r="2.05" fill="#c9002b"/>
<circle cx="441.5" cy="268.5" r="2.05" fill="#c9002b"/>
<circle cx="444.9" cy="270.7" r="2.05" fill="#c9002b"/>
<circle cx="447.9" cy="268.7" r="2.05" fill="#c9002b"/>
<circle cx="469.1" cy="244.1" r="2.05" fill="#0a4787"/>
<circle cx="469.1" cy="257.9" r="2.05" fill="#0a4787"/>
<circle cx="465.8" cy="262.4" r="2.05" fill="#0a4787"/>
<circle cx="472.5" cy="264.5" r="2.05" fill="#0a4787"/>
<circle cx="465.8" cy="266.5" r="2.05" fill="#0a4787"/>
<circle cx="472.5" cy="269.9" r="2.05" fill="#0a4787"/>
<circle cx="465.8" cy="271.5" r="2.05" fill="#0a4787"/>
<circle cx="497.4" cy="244.1" r="2.05" fill="#27b33e"/>
<circle cx="494.9" cy="249.1" r="2.05" fill="#27b33e"/>
<circle cx="500.7" cy="249.9" r="2.05" fill="#27b33e"/>
<circle cx="497.4" cy="256.9" r="2.05" fill="#27b33e"/>
<circle cx="495.2" cy="262.9" r="2.05" fill="#27b33e"/>
<circle cx="505.7" cy="263.2" r="2.05" fill="#27b33e"/>
<circle cx="500.2" cy="264.9" r="2.05" fill="#27b33e"/>
<circle cx="489.6" cy="265.7" r="2.05" fill="#27b33e"/>
</svg>
</body></html>
